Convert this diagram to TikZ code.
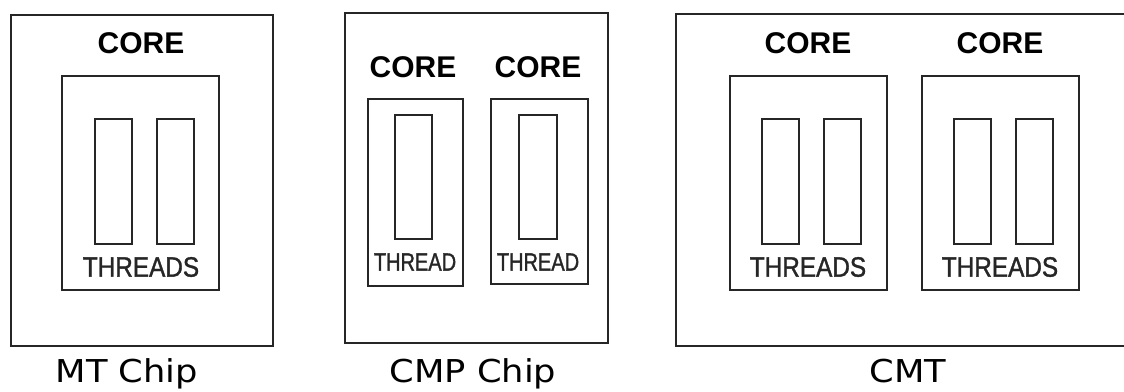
\documentclass[tikz,border=0pt]{standalone}
\usepackage{fontspec}
\setmainfont{Liberation Sans}
\newfontfamily\captionfont[FakeStretch=1.12]{DejaVu Sans}
\newfontfamily\threadsfont[FakeStretch=0.87,FakeBold=1.2]{Liberation Sans}
\newfontfamily\threadfont[FakeStretch=0.8,FakeBold=1.2]{Liberation Sans}
\usetikzlibrary{positioning}

\begin{document}
\begin{tikzpicture}[x=0.025cm, y=-0.025cm,
    box/.style={line width=1.3pt, draw=black!85},
    corelabel/.style={font=\fontsize{21.3}{24}\selectfont\bfseries, inner sep=0pt},
    threadslabel/.style={font=\threadsfont\fontsize{19.9}{22}\selectfont, text=black!85, inner sep=0pt},
    threadlabel/.style={font=\threadfont\fontsize{17.8}{20}\selectfont, text=black!85, inner sep=0pt},
    chiplabel/.style={font=\captionfont\fontsize{22.4}{26}\selectfont, anchor=base, inner sep=0pt}]
    \useasboundingbox (0,0) rectangle (1124,391);

    % MT chip
    \draw[box] (11,15) rectangle (273,346);
    \node[corelabel] (mtcore) at (141,43) {CORE};
    \draw[box] (62,76) rectangle (219,290);
    \draw[box] (95,119) rectangle (132,244);
    \draw[box] (157,119) rectangle (194,244);
    \node[threadslabel] (mtthreads) at (141,267) {THREADS};
    \node[chiplabel] (mtchip) at (127,382) {MT Chip};

    % CMP chip
    \draw[box] (345,13) rectangle (608,343);
    \node[corelabel] (cmpcorea) at (413,67) {CORE};
    \node[corelabel] (cmpcoreb) at (538,67) {CORE};
    \draw[box] (368,99) rectangle (463,286);
    \draw[box] (491,99) rectangle (588,284);
    \draw[box] (395,115) rectangle (432,239);
    \draw[box] (519,115) rectangle (557,239);
    \node[threadlabel] (cmpthreada) at (415,262) {THREAD};
    \node[threadlabel] (cmpthreadb) at (538,262) {THREAD};
    \node[chiplabel] (cmpchip) at (473,382) {CMP Chip};

    % CMT
    \draw[box] (676,14) rectangle (1130,346);
    \node[corelabel] (cmtcorea) at (808,43) {CORE};
    \node[corelabel] (cmtcoreb) at (1000,43) {CORE};
    \draw[box] (730,76) rectangle (887,290);
    \draw[box] (922,76) rectangle (1079,290);
    \draw[box] (762,119) rectangle (799,244);
    \draw[box] (824,119) rectangle (861,244);
    \draw[box] (954,119) rectangle (991,244);
    \draw[box] (1016,119) rectangle (1053,244);
    \node[threadslabel] (cmtthreadsa) at (808,267) {THREADS};
    \node[threadslabel] (cmtthreadsb) at (1000,267) {THREADS};
    \node[chiplabel] (cmtchip) at (908,382) {CMT};
\end{tikzpicture}
\end{document}
